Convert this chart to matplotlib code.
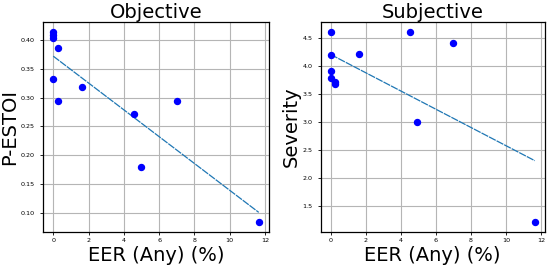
import numpy as np
import matplotlib
matplotlib.use("Agg")
import matplotlib.pyplot as plt

# EER (Any) in % for each system, same order in both panels
eer = [0, 0, 0, 0, 0.25, 0.25, 1.62, 4.55, 4.95, 7.0, 11.65]
# objective score
p_estoi = [0.415, 0.409, 0.403, 0.332, 0.387, 0.294, 0.319, 0.272, 0.180, 0.294, 0.083]
# subjective score
severity = [4.61, 4.19, 3.90, 3.78, 3.71, 3.67, 4.20, 4.61, 3.00, 4.40, 1.20]

panels = [
    ("Objective", "P-ESTOI", p_estoi),
    ("Subjective", "Severity", severity),
]

fig = plt.figure(figsize=(5.48, 2.66), dpi=100)
boxes = [
    [43 / 548, 34 / 266, 226 / 548, 210 / 266],
    [320.5 / 548, 34 / 266, 224.5 / 548, 210 / 266],
]

x = np.array(eer)
for box, (title, ylabel, vals) in zip(boxes, panels):
    ax = fig.add_axes(box)
    y = np.array(vals)

    # least squares fit, drawn over the data range
    slope, icpt = np.polyfit(x, y, 1)
    xs = np.sort(x)
    ax.plot(xs, slope * xs + icpt, color="#1f77b4", lw=0.9,
            linestyle=(0, (6, 0.8)), zorder=2)
    ax.plot(x, y, "o", color="blue", ms=4.3, zorder=3)

    ax.set_title(title, fontsize=14, pad=2)
    ax.set_xlabel("EER (Any) (%)", fontsize=14, labelpad=2.5)
    ax.set_ylabel(ylabel, fontsize=14, labelpad=1.5)
    ax.set_xticks(range(0, 13, 2))
    ax.grid(True, color="#b5b5b5", lw=0.8)
    ax.set_axisbelow(True)
    ax.tick_params(labelsize=4.6, length=2.2, width=0.6)
    ax.tick_params(axis="x", pad=2)
    ax.tick_params(axis="y", pad=3.5)
    for sp in ax.spines.values():
        sp.set_linewidth(0.9)

fig.savefig("out.png", dpi=100)
